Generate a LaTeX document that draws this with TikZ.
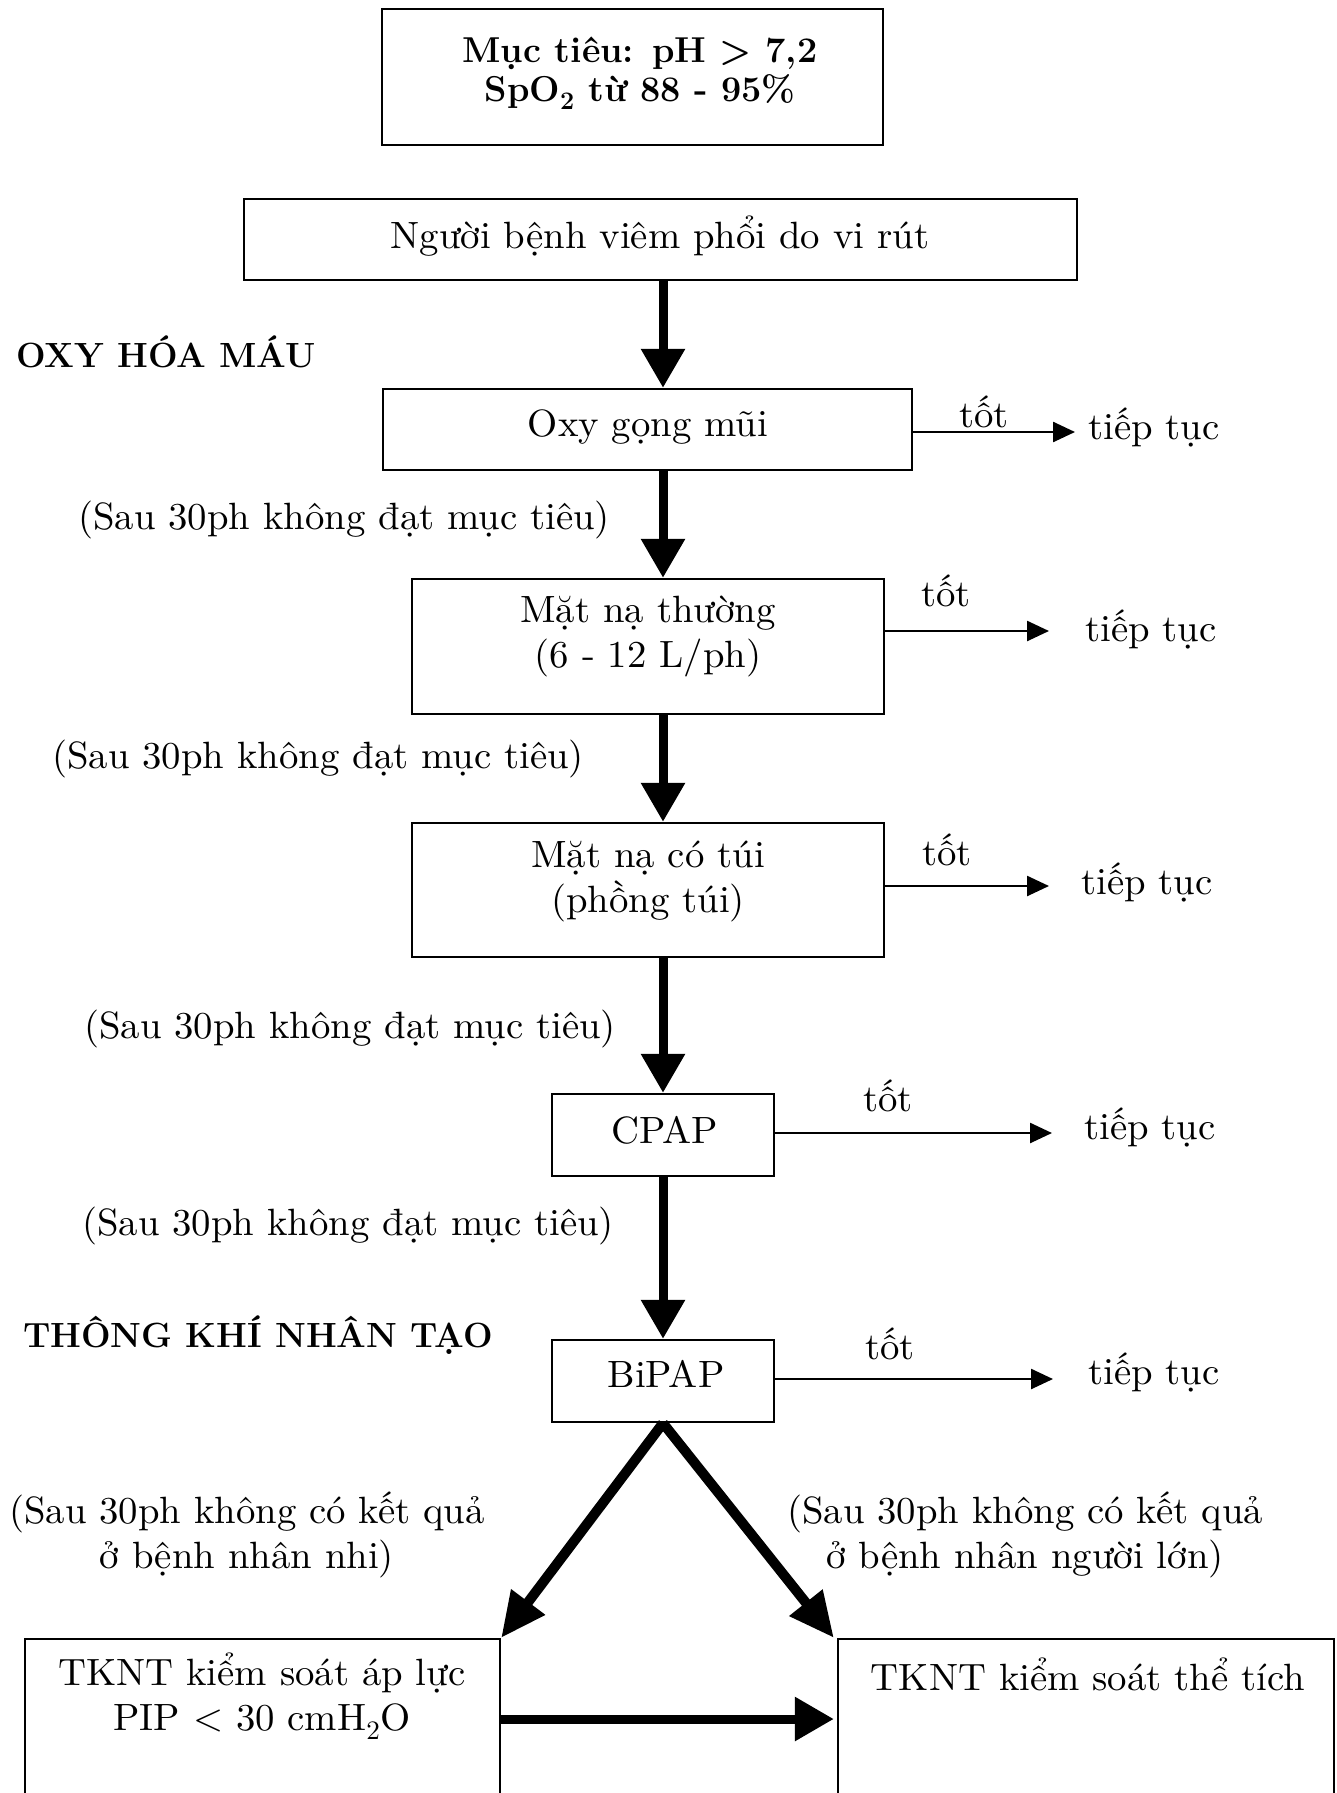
\documentclass[tikz,border=0pt]{standalone}
\usepackage{fontspec}
\newfontfamily\bodyfont{lmroman10-regular.otf}[FakeStretch=1.02]
\usetikzlibrary{arrows.meta,positioning}

\begin{document}
\begin{tikzpicture}[x=1pt,y=-1pt,
    box/.style={draw,line width=2.3pt,inner sep=0pt},
    txt/.style={font=\bodyfont\fontsize{38}{45}\selectfont,align=center,inner sep=0pt},
    head/.style={font=\bfseries\fontsize{35}{40}\selectfont,anchor=west,inner sep=0pt},
    down/.style={line width=9pt,-{Triangle[length=39pt,width=42pt]}},
    slant/.style={line width=10pt,-{Triangle[length=45pt,width=40pt]}},
    good/.style={line width=2.5pt,-{Triangle[length=22pt,width=20pt]}}]

\useasboundingbox (0,0) rectangle (1337,1793);

% Goal
\node[box,minimum width=501pt,minimum height=136pt] (goal) at (632.5,77) {};
\node[align=center,inner sep=0pt,font=\bfseries\fontsize{36}{39}\selectfont] (goaltxt) at (640,73)
    {Mục tiêu: pH > 7,2\\SpO\textsubscript{2} từ 88 - 95\%};

% Boxes
\node[box,minimum width=833pt,minimum height=81pt] (patient) at (660.5,239.5) {};
\node[box,minimum width=529pt,minimum height=81pt] (nasal) at (647.5,429.5) {};
\node[box,minimum width=472pt,minimum height=135pt] (mask) at (648,646.5) {};
\node[box,minimum width=472pt,minimum height=134pt] (bag) at (648,890) {};
\node[box,minimum width=222pt,minimum height=82pt] (cpap) at (663,1135) {};
\node[box,minimum width=222pt,minimum height=82pt] (bipap) at (663,1381) {};
\node[box,minimum width=475pt,minimum height=260pt] (pcv) at (262.5,1769) {};
\node[box,minimum width=496pt,minimum height=260pt] (vcv) at (1086,1769) {};

% Box texts
\node[txt] (patienttxt) at (660,236) {Người bệnh viêm phổi do vi rút};
\node[txt] (nasaltxt) at (648,427) {Oxy gọng mũi};
\node[txt] (masktxt) at (648,636.5) {Mặt nạ thường\\(6 - 12 L/ph)};
\node[txt] (bagtxt) at (648,881) {Mặt nạ có túi\\(phồng túi)};
\node[txt] (cpaptxt) at (665,1130) {CPAP};
\node[txt] (bipaptxt) at (666,1374) {BiPAP};
\node[txt] (pcvtxt) at (262,1696) {TKNT kiểm soát áp lực\\PIP < 30 cmH\textsubscript{2}O};
\node[txt] (vcvtxt) at (1088,1674) {TKNT kiểm soát thể tích};

% Headings
\node[head] (oxy) at (16,352) {OXY HÓA MÁU};
\node[head] (vent) at (23,1335) {THÔNG KHÍ NHÂN TẠO};

% Failure labels
\node[txt] (fail1) at (344,520) {(Sau 30ph không đạt mục tiêu)};
\node[txt] (fail2) at (318,759) {(Sau 30ph không đạt mục tiêu)};
\node[txt] (fail3) at (350,1029) {(Sau 30ph không đạt mục tiêu)};
\node[txt] (fail4) at (348,1226) {(Sau 30ph không đạt mục tiêu)};
\node[txt] (child) at (247,1534.5) {(Sau 30ph không có kết quả\\ở bệnh nhân nhi)};
\node[txt] (adult) at (1025,1534.5) {(Sau 30ph không có kết quả\\ở bệnh nhân người lớn)};

% Good outcome
\coordinate (tip1) at (1075,432);
\coordinate (tip2) at (1049,631);
\coordinate (tip3) at (1049,886);
\coordinate (tip4) at (1052,1133);
\coordinate (tip5) at (1053,1379);

\node[txt] (ok1) at (984,412) {tốt};
\node[txt] (ok2) at (946,591) {tốt};
\node[txt] (ok3) at (947,850) {tốt};
\node[txt] (ok4) at (888,1096) {tốt};
\node[txt] (ok5) at (890,1344) {tốt};
\node[txt,anchor=west] (go1) at (1088,427) {tiếp tục};
\node[txt,anchor=west] (go2) at (1085,629) {tiếp tục};
\node[txt,anchor=west] (go3) at (1081,882) {tiếp tục};
\node[txt,anchor=west] (go4) at (1084,1127) {tiếp tục};
\node[txt,anchor=west] (go5) at (1088,1372) {tiếp tục};

\draw[good] (nasal.east |- tip1) -- (tip1);
\draw[good] (mask.east |- tip2) -- (tip2);
\draw[good] (bag.east |- tip3) -- (tip3);
\draw[good] (cpap.east |- tip4) -- (tip4);
\draw[good] (bipap.east |- tip5) -- (tip5);

% Main flow
\draw[down] (patient.south -| bipap) -- (nasal.north -| bipap);
\draw[down] (nasal.south -| bipap) -- (mask.north -| bipap);
\draw[down] (mask.south -| bipap) -- (bag.north -| bipap);
\draw[down] (bag.south -| bipap) -- (cpap.north);
\draw[down] (cpap.south) -- (bipap.north);

% Split
\draw[slant] (bipap.south) -- (pcv.north east);
\draw[slant] (bipap.south) -- ([xshift=-3pt]vcv.north west);
\coordinate (pcvout) at (500,1719);
\draw[down] (pcvout) -- ([xshift=-3pt]pcvout -| vcv.west);

\end{tikzpicture}
\end{document}
